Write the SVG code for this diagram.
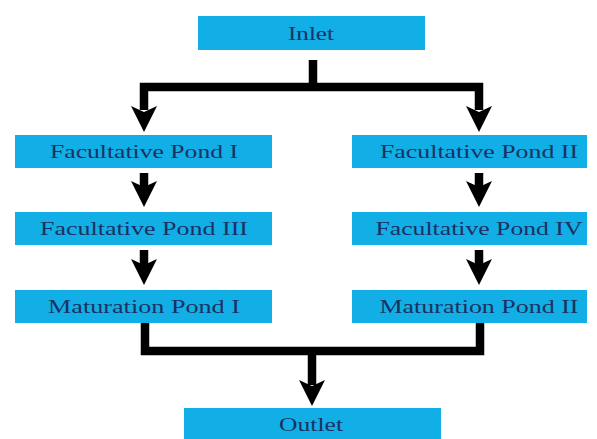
<svg xmlns="http://www.w3.org/2000/svg" width="597" height="439" viewBox="0 0 597 439">
<style>
.box{fill:#12aee6;}
.lbl{font-family:"Liberation Serif","DejaVu Serif",serif;font-size:18px;fill:#1b3163;text-anchor:middle;}
.wire{stroke:#000;stroke-width:8.5;fill:none;stroke-linejoin:miter;stroke-linecap:butt;}
.head{fill:#000;}
</style>
<defs>
<polygon id="ah" points="-13,-26 0,-20 13,-26 0,0"/>
</defs>
<rect width="597" height="439" fill="#fff"/>
<g id="connectors">
<path class="wire" d="M313 60 V87"/>
<path class="wire" d="M144 110 V87 H479 V110"/>
<use href="#ah" class="head" x="144" y="132"/>
<use href="#ah" class="head" x="479" y="132"/>
<path class="wire" d="M144 173 V190"/>
<use href="#ah" class="head" x="144" y="207"/>
<path class="wire" d="M479 173 V190"/>
<use href="#ah" class="head" x="479" y="207"/>
<path class="wire" d="M144 250 V268"/>
<use href="#ah" class="head" x="144" y="285"/>
<path class="wire" d="M479 250 V268"/>
<use href="#ah" class="head" x="479" y="285"/>
<path class="wire" d="M145 323 V351 H480 V323"/>
<path class="wire" d="M312 351 V385"/>
<use href="#ah" class="head" x="312" y="406"/>
</g>
<g id="inlet"><rect class="box" x="198" y="16" width="227" height="34"/><text class="lbl" x="311" y="40" textLength="46" lengthAdjust="spacingAndGlyphs">Inlet</text></g>
<g id="fp1"><rect class="box" x="15" y="135" width="257" height="33"/><text class="lbl" x="144" y="158" textLength="188" lengthAdjust="spacingAndGlyphs">Facultative Pond I</text></g>
<g id="fp3"><rect class="box" x="15" y="212" width="257" height="33"/><text class="lbl" x="144" y="235" textLength="208" lengthAdjust="spacingAndGlyphs">Facultative Pond III</text></g>
<g id="mp1"><rect class="box" x="15" y="290" width="257" height="33"/><text class="lbl" x="144" y="313" textLength="192" lengthAdjust="spacingAndGlyphs">Maturation Pond I</text></g>
<g id="fp2"><rect class="box" x="352" y="135" width="235" height="33"/><text class="lbl" x="479" y="158" textLength="198" lengthAdjust="spacingAndGlyphs">Facultative Pond II</text></g>
<g id="fp4"><rect class="box" x="352" y="212" width="235" height="33"/><text class="lbl" x="479" y="235" textLength="207" lengthAdjust="spacingAndGlyphs">Facultative Pond IV</text></g>
<g id="mp2"><rect class="box" x="352" y="290" width="235" height="33"/><text class="lbl" x="479" y="313" textLength="199" lengthAdjust="spacingAndGlyphs">Maturation Pond II</text></g>
<g id="outlet"><rect class="box" x="184" y="408" width="257" height="34"/><text class="lbl" x="311" y="431" textLength="64" lengthAdjust="spacingAndGlyphs">Outlet</text></g>
</svg>
